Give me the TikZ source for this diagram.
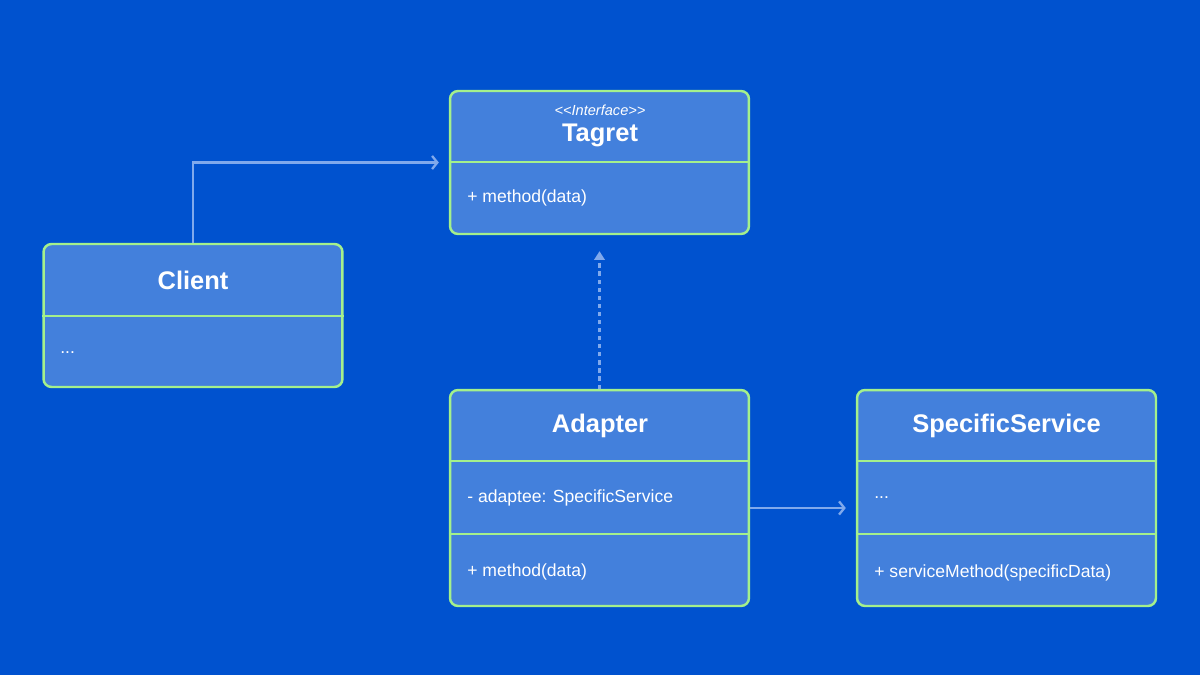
\documentclass[tikz,border=0pt]{standalone}
\usepackage{fontspec}
\setmainfont{Liberation Sans}
\usetikzlibrary{arrows.meta}
\definecolor{bgblue}{HTML}{0052CF}
\definecolor{boxblue}{HTML}{4380DC}
\definecolor{edgegreen}{HTML}{A4F08C}
\definecolor{linkblue}{HTML}{80A9EC}
\tikzset{
classbox/.style={draw=edgegreen, fill=boxblue, line width=1.4pt, rounded corners=0.16cm, minimum width=5.98cm, inner sep=0pt},
divider/.style={draw=edgegreen, line width=1.4pt},
title/.style={text=white, font=\bfseries\fontsize{14.5}{17}\selectfont},
member/.style={text=white, anchor=west, inner sep=0pt, font=\fontsize{10}{12}\selectfont},
stereo/.style={text=white, font=\itshape\fontsize{8.3}{9}\selectfont},
assoc/.style={draw=linkblue, line width=1.3pt, -{Straight Barb[length=3pt,width=7.5pt]}},
realize/.style={draw=linkblue, line width=1.3pt, dash pattern=on 2.4pt off 2.2pt, -{Triangle[length=5pt,width=6pt]}},
}
\begin{document}
\begin{tikzpicture}[x=0.02cm,y=-0.02cm]
\fill[bgblue] (0,0) rectangle (1200,675);
\useasboundingbox (0,0) rectangle (1200,675);
\node[classbox, minimum height=2.86cm] (target) at (599.5,162.5) {};
\node[classbox, minimum height=2.86cm] (client) at (193,315.5) {};
\node[classbox, minimum height=4.32cm] (adapter) at (599.5,498) {};
\node[classbox, minimum height=4.32cm] (service) at (1006.5,498) {};
\draw[divider] (target.west |- 0,162) -- (target.east |- 0,162);
\draw[divider] (client.west |- 0,316) -- (client.east |- 0,316);
\draw[divider] (adapter.west |- 0,461) -- (adapter.east |- 0,461);
\draw[divider] (adapter.west |- 0,534) -- (adapter.east |- 0,534);
\draw[divider] (service.west |- 0,461) -- (service.east |- 0,461);
\draw[divider] (service.west |- 0,534) -- (service.east |- 0,534);
\node[stereo] (target-stereo) at (600,110) {<\kern0pt<Interface>\kern0pt>};
\node[title] (target-name) at (600,135) {Tagret};
\node[member] (target-op) at (467,198) {+ method(data)};
\node[title] (client-name) at (193,280) {Client};
\node[member] (client-attr) at (60,353) {...};
\node[title] (adapter-name) at (600,426) {Adapter};
\node[member] (adapter-attr) at (467,498) {- adaptee: SpecificService};
\node[member] (adapter-op) at (467,572) {+ method(data)};
\node[title] (service-name) at (1006.5,426) {SpecificService};
\node[member] (service-attr) at (874,498) {...};
\node[member] (service-op) at (874,573) {+ serviceMethod(specificData)};
\draw[assoc] (client.north) |- ([xshift=-0.2cm]target.west);
\draw[realize] (adapter.north) -- ([yshift=-0.32cm]target.south);
\draw[assoc] ([yshift=-0.2cm]adapter.east) -- ([xshift=-0.2cm,yshift=-0.2cm]service.west);
\end{tikzpicture}
\end{document}
